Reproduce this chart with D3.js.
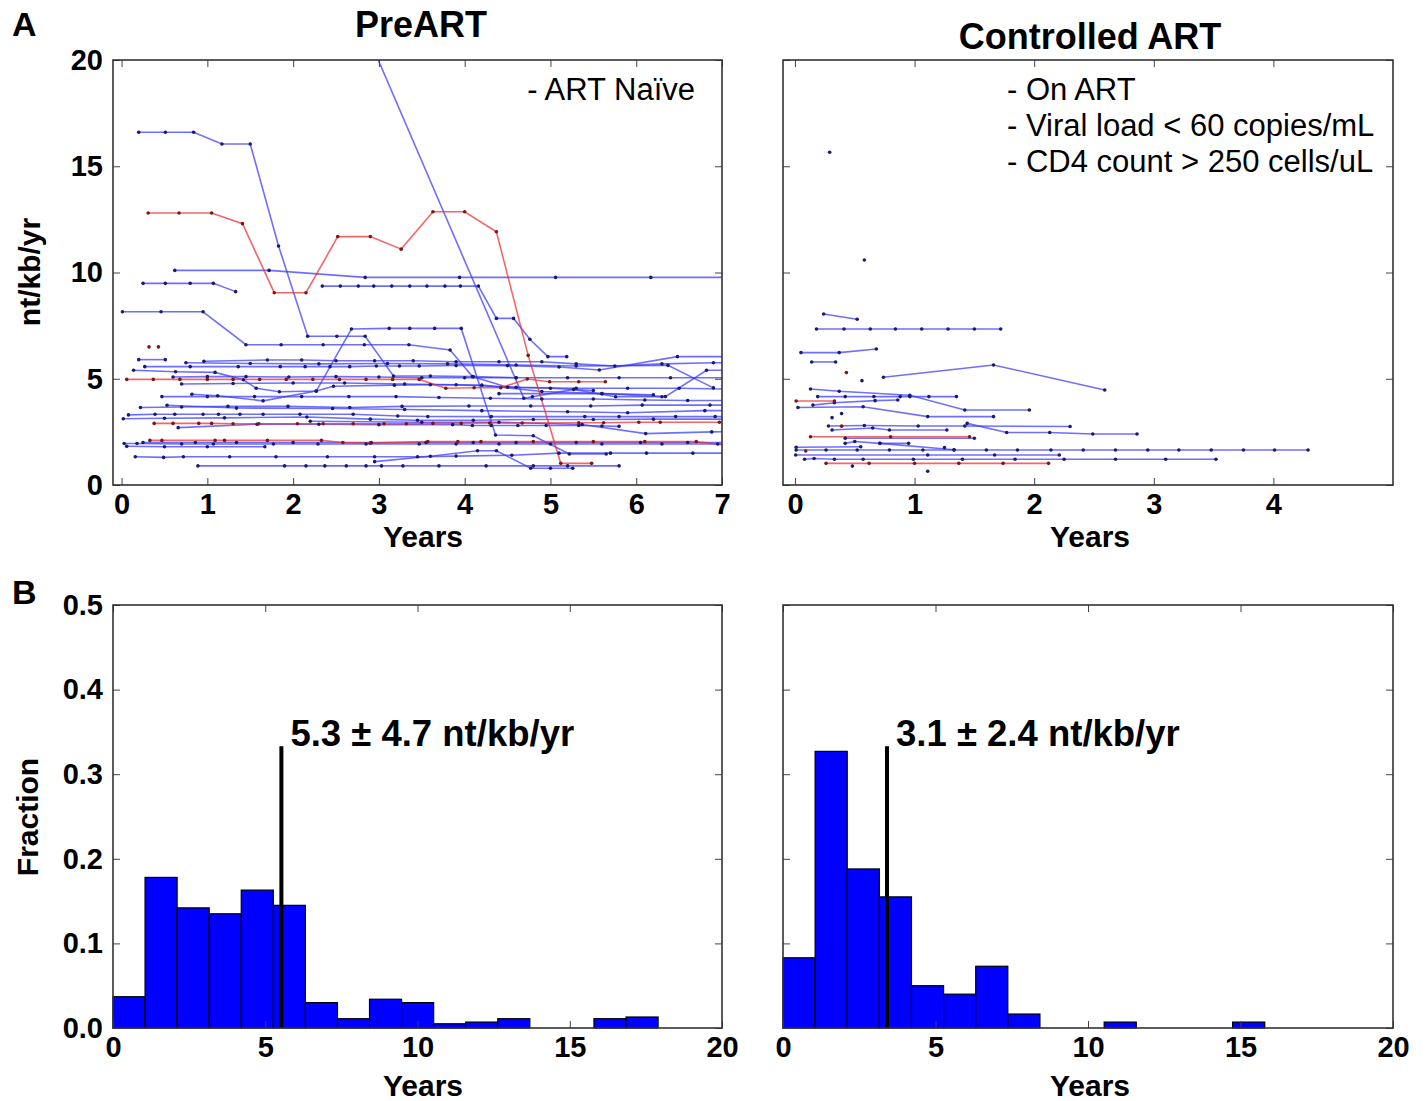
<!DOCTYPE html>
<html><head><meta charset="utf-8">
<script src="https://cdn.jsdelivr.net/npm/d3@7"></script>
<style>
body{margin:0;background:#fff;}
svg{display:block;font-family:"Liberation Sans",Arial,Helvetica,sans-serif;}
</style></head>
<body>
<svg id="chart" width="1427" height="1101"></svg>
<script>
// ---------- DATA ----------
// PreART trajectories: [years, nt/kb/yr]
const preArtBlue = [
 [[0.2,16.6],[0.51,16.6],[0.84,16.6],[1.17,16.05],[1.5,16.05],[1.83,11.25],[2.17,7.0],[2.51,7.0],[2.84,7.0],[3.17,5.13],[3.6,5.13],[4.1,5.1],[4.6,5.05]],
 [[0.62,10.1],[1.72,10.1],[2.84,9.77],[3.94,9.77],[5.06,9.77],[6.17,9.77],[7.2,9.77]],
 [[0.25,9.49],[0.51,9.49],[0.8,9.49],[1.07,9.49],[1.33,9.1]],
 [[2.34,9.36],[2.55,9.36],[2.76,9.36],[2.94,9.36],[3.15,9.36],[3.36,9.36],[3.56,9.36],[3.77,9.36],[3.95,9.36],[4.16,9.36],[4.37,7.84],[4.57,7.84],[4.76,6.86],[4.97,6.04],[5.19,6.04]],
 [[2.95,20.4],[4.69,4.08],[4.79,4.15],[5.27,4.5],[5.76,4.15],[6.3,4.15]],
 [[0.01,8.15],[0.46,8.15],[0.95,8.15],[1.45,6.6],[1.86,6.6],[2.35,6.6],[2.83,6.6],[3.35,6.6],[3.83,6.35],[4.09,5.1],[4.5,4.6],[5.0,4.55],[5.5,4.45]],
 [[0.14,5.4],[0.63,5.33],[1.09,5.3],[1.42,4.95],[1.57,4.55],[1.84,4.39],[2.27,4.42],[2.68,7.34],[3.12,7.37],[3.36,7.37],[3.65,7.37],[3.96,7.37],[4.36,2.35],[4.8,2.32],[5.22,1.46],[5.65,1.46]],
 [[0.82,4.27],[1.12,4.2],[1.65,3.96],[2.27,4.42],[2.47,4.65],[3.18,4.7],[3.6,4.72],[4.2,4.7],[4.9,4.4],[5.6,4.3],[6.2,4.25]],
 [[0.96,5.82],[1.7,5.88],[2.1,5.88],[2.5,5.85],[2.95,5.85],[3.4,5.85],[3.9,5.8],[4.4,5.8],[4.9,5.8],[5.3,5.7],[5.75,5.6],[6.3,5.7],[6.9,5.75],[7.2,5.75]],
 [[0.2,5.9],[0.51,5.9]],
 [[0.27,5.57],[0.8,5.57],[1.36,5.57],[1.85,5.57],[2.14,5.57],[2.43,5.57],[2.66,5.57],[2.97,5.6],[3.24,5.6],[3.47,5.6],[3.9,5.62],[4.5,5.62],[5.1,5.55],[5.57,5.41],[6.48,6.04],[7.2,6.04]],
 [[0.75,5.75],[1.5,5.72],[2.3,5.7],[3.1,5.72],[3.8,5.7],[4.6,5.65],[5.3,5.6],[6.37,5.63],[6.9,4.57]],
 [[4.4,4.3],[5.6,4.3],[6.34,4.16],[6.82,5.4],[7.2,5.4]],
 [[0.6,5.08],[1.0,5.1],[1.45,5.1],[1.95,5.08],[2.5,5.1],[3.0,5.08],[3.5,5.05],[4.0,5.05],[4.6,5.05],[5.2,5.05],[5.8,5.05],[6.4,5.05],[7.2,5.05]],
 [[0.7,4.75],[1.3,4.78],[2.0,4.8],[2.6,4.8],[3.3,4.75],[3.9,4.72],[4.6,4.6],[5.3,4.55],[5.9,4.55],[6.5,4.55],[7.2,4.5]],
 [[0.47,4.16],[1.0,4.16],[1.55,4.16],[2.1,4.16],[2.65,4.16],[3.2,4.16],[3.7,4.12],[4.3,4.08],[4.9,4.05],[5.5,4.05],[6.1,4.0],[6.6,3.98],[7.2,3.98]],
 [[0.22,3.65],[0.7,3.67],[1.24,3.7],[1.94,3.7],[2.66,3.65],[3.27,3.7],[4.05,3.72],[4.77,3.72],[5.47,3.72],[6.07,3.76],[6.86,3.76],[7.2,3.76]],
 [[0.53,3.75],[1.34,3.62],[2.46,3.6],[3.3,3.55],[4.2,3.5],[5.2,3.45],[5.9,3.4],[6.8,3.5],[7.2,3.5]],
 [[0.08,3.3],[0.39,3.33],[0.62,3.33],[0.95,3.33],[1.13,3.33],[1.38,3.33],[1.65,3.33],[2.08,3.33],[2.7,3.33],[3.22,3.25],[3.57,3.22],[4.31,3.22],[5.4,3.22],[5.8,3.22],[6.46,3.22],[6.92,3.22],[7.2,3.22]],
 [[0.02,3.12],[0.5,3.14],[1.2,3.16],[2.16,3.2],[2.9,3.1],[3.45,3.05],[4.1,3.05],[4.8,3.08],[5.5,3.08],[6.2,3.1],[7.2,3.1]],
 [[0.66,2.7],[1.58,2.86],[2.3,2.86],[3.0,2.84],[3.86,2.84],[4.09,2.8],[4.31,2.8],[4.62,2.8],[4.95,2.8],[5.33,2.8],[5.6,2.78],[5.8,2.76]],
 [[2.2,3.0],[3.5,2.95],[4.4,2.95],[5.37,2.85],[6.11,2.42],[6.88,2.5],[7.2,2.52]],
 [[0.03,1.95],[0.18,1.95],[0.7,1.93],[1.07,1.93],[1.77,1.93],[2.29,1.93],[2.85,1.93],[3.47,1.93],[3.9,1.93],[4.4,1.93],[5.0,1.93],[5.6,1.93],[6.3,1.93],[6.95,1.93],[7.2,1.93]],
 [[0.25,2.0],[0.86,2.0],[1.34,2.0],[2.0,2.0],[2.91,2.0],[3.55,2.0],[4.1,2.0],[4.6,2.0],[5.3,2.0],[6.05,2.0],[6.6,2.0],[7.2,2.0]],
 [[0.06,1.82],[0.5,1.8],[1.0,1.8],[1.67,1.8]],
 [[0.16,1.33],[0.49,1.3],[0.72,1.33],[1.26,1.33],[1.8,1.33],[2.4,1.33],[2.95,1.33],[3.45,1.33],[3.9,1.36],[4.55,1.4],[5.1,1.5],[5.7,1.5],[6.12,1.5],[6.66,1.5],[7.2,1.5]],
 [[2.95,1.1],[3.6,1.35],[4.15,1.61],[4.37,1.61],[4.77,0.79],[5.0,0.79],[5.26,0.79]],
 [[0.89,0.9],[1.9,0.9],[2.15,0.9],[2.37,0.9],[2.62,0.9],[2.85,0.9],[3.03,0.9],[3.28,0.9],[3.7,0.9],[4.25,0.9],[4.8,0.9],[5.2,0.9],[5.8,0.9]]
];
const preArtRed = [
 [[0.31,12.8],[0.67,12.8],[1.05,12.8],[1.41,12.3],[1.78,9.05],[2.15,9.05],[2.52,11.69],[2.9,11.69],[3.26,11.1],[3.63,12.86],[4.0,12.86],[4.37,11.92],[4.74,6.1],[5.12,1.02],[5.48,1.02]],
 [[0.06,4.97],[0.37,4.97],[0.68,4.97],[1.0,4.97],[1.3,4.97],[1.61,4.97],[1.92,4.97],[2.23,4.97],[2.54,4.97],[2.85,4.97],[3.16,4.97],[3.47,4.97],[3.78,4.55],[4.11,4.58],[4.42,4.58],[4.73,4.99],[4.99,4.86],[5.33,4.86],[5.64,4.86]],
 [[0.38,2.9],[0.6,2.9],[0.9,2.9],[1.05,2.9],[1.3,2.88],[1.6,2.88],[2.05,2.88],[2.35,2.88],[2.7,2.88],[3.06,2.88],[3.32,2.88],[3.63,2.9],[3.96,2.9],[4.29,2.92],[4.67,2.92],[5.33,2.93],[5.62,2.93],[6.03,2.95],[6.28,2.95],[6.97,2.95],[7.2,2.95]],
 [[0.33,2.1],[0.47,2.1],[1.09,2.1],[1.2,2.1],[1.7,2.1],[2.33,2.1],[2.58,2.0],[2.9,1.97],[3.57,2.04],[3.92,2.04],[4.19,2.04],[4.8,2.04],[5.5,2.04],[6.1,2.04],[6.7,2.04],[7.2,1.8]],
 [[0.32,6.5]],
 [[0.43,6.5]]
];
// Controlled ART trajectories
const ctrlArtBlue = [
 [[0.29,15.66]],
 [[0.58,10.59]],
 [[0.24,8.05],[0.52,7.8]],
 [[0.18,7.34],[0.41,7.34],[0.63,7.34],[0.84,7.34],[1.06,7.34],[1.28,7.34],[1.5,7.34],[1.72,7.34]],
 [[0.05,6.23],[0.37,6.23],[0.68,6.4]],
 [[0.14,5.79],[0.34,5.79]],
 [[0.56,4.91]],
 [[0.74,5.07],[1.66,5.65],[2.59,4.47]],
 [[0.13,4.52],[0.37,4.41],[0.96,4.22],[1.42,3.53],[1.96,3.53]],
 [[0.19,4.16],[0.42,4.16],[0.66,4.16],[0.88,4.16],[0.96,4.16],[1.12,4.16],[1.35,4.16]],
 [[0.15,3.76],[0.33,3.87],[0.67,3.97],[0.86,4.0]],
 [[0.025,3.65],[0.57,3.68],[1.11,3.22],[1.66,3.22]],
 [[0.31,3.17]],
 [[0.39,3.36]],
 [[0.28,2.78],[0.58,2.8],[1.03,2.78],[1.42,2.78],[2.3,2.75]],
 [[0.31,2.59],[0.65,2.68],[0.79,2.59],[1.27,2.59]],
 [[1.44,2.9],[1.77,2.47],[2.13,2.47],[2.49,2.4],[2.86,2.4]],
 [[0.42,2.2],[1.5,2.2]],
 [[0.42,1.96],[0.5,2.05],[0.71,1.96],[0.95,1.96]],
 [[0.71,1.96],[1.33,1.66]],
 [[0.01,1.78],[0.55,1.8]],
 [[0.01,1.65],[0.26,1.65],[0.52,1.65],[0.79,1.65],[1.07,1.65],[1.33,1.65],[1.6,1.65],[1.86,1.65],[2.14,1.65],[2.41,1.65],[2.68,1.65],[2.95,1.65],[3.21,1.65],[3.48,1.65],[3.75,1.65],[4.01,1.65],[4.29,1.65]],
 [[1.25,1.76]],
 [[0.006,1.41],[1.11,1.41],[1.67,1.41],[2.21,1.41]],
 [[0.08,1.21],[0.16,1.25],[0.33,1.21],[0.57,1.21],[0.99,1.21],[1.4,1.21],[1.84,1.21],[2.25,1.21],[2.68,1.21],[3.1,1.21],[3.52,1.21]],
 [[0.48,0.89]],
 [[1.11,0.65]]
];
const ctrlArtRed = [
 [[0.01,3.95],[0.33,3.95]],
 [[0.13,2.27],[0.8,2.27],[1.46,2.27]],
 [[0.26,1.02],[0.62,1.02],[1.0,1.02],[1.37,1.02],[1.74,1.02],[2.12,1.02]],
 [[0.43,5.29]],
 [[0.39,2.77]],
 [[0.09,1.6]]
];
// Histograms (fraction per bin)
const binWidth = 1.053;
const preArtHist  = [0.037,0.178,0.142,0.135,0.163,0.145,0.030,0.011,0.034,0.030,0.005,0.007,0.011,0,0,0.011,0.013];
const ctrlArtHist = [0.083,0.327,0.188,0.155,0.050,0.040,0.073,0.0165,0,0,0.007,0,0,0,0.007];
const preArtMean = 5.53, ctrlArtMean = 3.41, meanLineTop = 0.333;
const preArtLabel = "5.3 \u00b1 4.7 nt/kb/yr";
const ctrlArtLabel = "3.1 \u00b1 2.4 nt/kb/yr";
const topYTicks = [0,5,10,15,20];
const preXTicks = [0,1,2,3,4,5,6,7];
const ctrlXTicks = [0,1,2,3,4];
const histXTicks = [0,5,10,15,20];
const histYTicks = [0,0.1,0.2,0.3,0.4,0.5];

// ---------- DRAW ----------
const svg = d3.select("#chart");
const defs = svg.append("defs");
const P = {
  tl:{x0:113,x1:722,y0:60,y1:485},
  tr:{x0:783,x1:1393,y0:60,y1:485},
  bl:{x0:113,x1:722,y0:605,y1:1028},
  br:{x0:783,x1:1393,y0:605,y1:1028}
};
const TICKFONT = 29;

function frameAndAxes(p, x, y, xt, yt, showY, yfmt){
  const g = svg.append("g");
  const tick = 7;
  g.append("g").attr("transform",`translate(0,${p.y1})`)
    .call(d3.axisBottom(x).tickValues(xt).tickSize(-tick).tickPadding(8).tickFormat(d3.format("d")));
  g.append("g").attr("transform",`translate(0,${p.y0})`)
    .call(d3.axisTop(x).tickValues(xt).tickSize(-tick).tickFormat(""));
  g.append("g").attr("transform",`translate(${p.x0},0)`)
    .call(d3.axisLeft(y).tickValues(yt).tickSize(-tick).tickPadding(10).tickFormat(showY? yfmt : ""));
  g.append("g").attr("transform",`translate(${p.x1},0)`)
    .call(d3.axisRight(y).tickValues(yt).tickSize(-tick).tickFormat(""));
  g.selectAll(".domain").remove();
  g.selectAll(".tick line").attr("stroke","#444").attr("stroke-width",1);
  g.selectAll(".tick text").attr("font-size",TICKFONT).attr("font-weight","bold")
    .attr("fill","#000").attr("font-family","Liberation Sans, Arial, sans-serif");
  g.append("rect").attr("x",p.x0).attr("y",p.y0).attr("width",p.x1-p.x0).attr("height",p.y1-p.y0)
    .attr("fill","none").attr("stroke","#333").attr("stroke-width",1.6);
  return g;
}

function clip(id,p){
  defs.append("clipPath").attr("id",id).append("rect")
    .attr("x",p.x0).attr("y",p.y0).attr("width",p.x1-p.x0).attr("height",p.y1-p.y0);
}

function drawTraj(p, x, y, blue, red, id){
  clip(id,p);
  const g = svg.append("g").attr("clip-path",`url(#${id})`);
  const line = d3.line().x(d=>x(d[0])).y(d=>y(d[1]));
  const groups = [
    {data:blue, stroke:"rgb(55,55,255)", dot:"#1a1a70"},
    {data:red, stroke:"rgb(235,45,45)", dot:"#7a1818"}
  ];
  groups.forEach(gr=>{
    g.append("g").selectAll("path").data(gr.data.filter(d=>d.length>1)).join("path")
      .attr("d",line).attr("fill","none").attr("stroke",gr.stroke)
      .attr("stroke-opacity",0.72).attr("stroke-width",1.6);
  });
  groups.forEach(gr=>{
    g.append("g").selectAll("circle").data(gr.data.flat()).join("circle")
      .attr("cx",d=>x(d[0])).attr("cy",d=>y(d[1])).attr("r",1.8).attr("fill",gr.dot);
  });
}

// Top left
const xTL = d3.scaleLinear().domain([-0.1,7]).range([P.tl.x0,P.tl.x1]);
const yTop = d3.scaleLinear().domain([0,20]).range([P.tl.y1,P.tl.y0]);
drawTraj(P.tl,xTL,yTop,preArtBlue,preArtRed,"cTL");
frameAndAxes(P.tl,xTL,yTop,preXTicks,topYTicks,true,d3.format("d"));

// Top right
const xTR = d3.scaleLinear().domain([-0.1,5]).range([P.tr.x0,P.tr.x1]);
const yTopR = d3.scaleLinear().domain([0,20]).range([P.tr.y1,P.tr.y0]);
drawTraj(P.tr,xTR,yTopR,ctrlArtBlue,ctrlArtRed,"cTR");
frameAndAxes(P.tr,xTR,yTopR,ctrlXTicks,topYTicks,false,d3.format("d"));

// Histograms
function drawHist(p, hist, mean, label){
  const x = d3.scaleLinear().domain([0,20]).range([p.x0,p.x1]);
  const y = d3.scaleLinear().domain([0,0.5]).range([p.y1,p.y0]);
  const g = svg.append("g");
  g.selectAll("rect").data(hist.map((v,i)=>({i,v})).filter(d=>d.v>0)).join("rect")
    .attr("x",d=>x(d.i*binWidth)).attr("width",d=>x((d.i+1)*binWidth)-x(d.i*binWidth))
    .attr("y",d=>y(d.v)).attr("height",d=>y(0)-y(d.v))
    .attr("fill","#0000ff").attr("stroke","#000").attr("stroke-width",1.2);
  g.append("line").attr("x1",x(mean)).attr("x2",x(mean)).attr("y1",y(0)).attr("y2",y(meanLineTop))
    .attr("stroke","#000").attr("stroke-width",4);
  g.append("text").attr("x",x(mean)+9).attr("y",y(meanLineTop))
    .attr("font-size",36.5).attr("font-weight","bold").text(label);
  return {x,y};
}
const hl = drawHist(P.bl,preArtHist,preArtMean,preArtLabel);
frameAndAxes(P.bl,hl.x,hl.y,histXTicks,histYTicks,true,d3.format(".1f"));
const hr = drawHist(P.br,ctrlArtHist,ctrlArtMean,ctrlArtLabel);
frameAndAxes(P.br,hr.x,hr.y,histXTicks,histYTicks,false,d3.format(".1f"));

// Texts
const T = (x,y,s,size,weight,anchor)=>svg.append("text").attr("x",x).attr("y",y)
  .attr("font-size",size).attr("font-weight",weight||"normal").attr("text-anchor",anchor||"start").text(s);
T(12,36,"A",34,"bold");
T(12,604,"B",34,"bold");
T(421,37,"PreART",36,"bold","middle");
T(1090,49,"Controlled ART",36,"bold","middle");
T(423,547,"Years",30,"bold","middle");
T(1090,547,"Years",30,"bold","middle");
T(423,1096,"Years",30,"bold","middle");
T(1090,1096,"Years",30,"bold","middle");
svg.append("text").attr("transform","translate(40,272) rotate(-90)").attr("text-anchor","middle")
  .attr("font-size",30).attr("font-weight","bold").text("nt/kb/yr");
svg.append("text").attr("transform","translate(38,817) rotate(-90)").attr("text-anchor","middle")
  .attr("font-size",30).attr("font-weight","bold").text("Fraction");
T(695,100,"- ART Na\u00efve",31,"normal","end");
T(1007,100,"- On ART",31);
T(1007,136,"- Viral load < 60 copies/mL",31);
T(1007,172,"- CD4 count > 250 cells/uL",31);
</script>
</body></html>
